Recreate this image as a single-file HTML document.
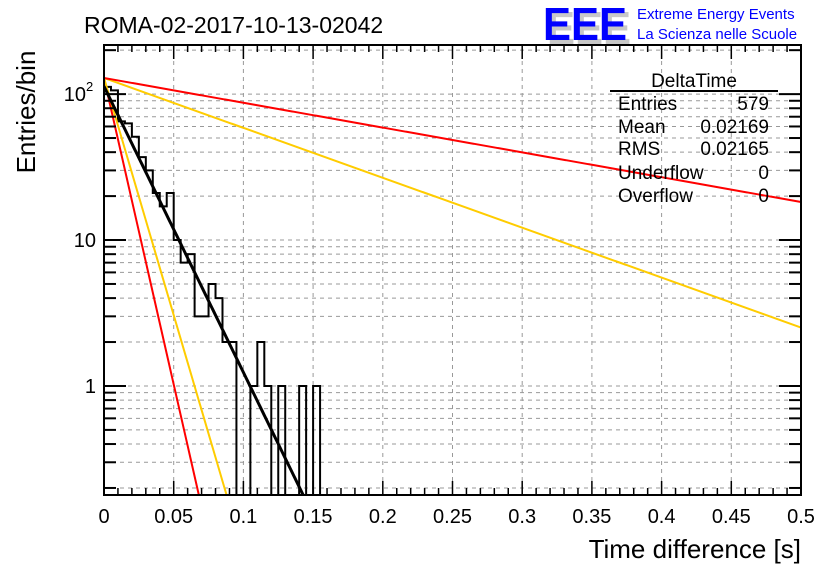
<!DOCTYPE html>
<html><head><meta charset="utf-8"><style>
body{margin:0;background:#fff;}
svg{display:block;font-family:"Liberation Sans",sans-serif;}
</style></head><body>
<svg id="c" width="836" height="572">
<text x="84" y="33" font-size="23">ROMA-02-2017-10-13-02042</text>
<g>
<text x="547" y="44" font-size="46" fill="#c8c8c8" font-weight="bold" textLength="84" lengthAdjust="spacingAndGlyphs">EEE</text>
<text x="543" y="40" font-size="46" fill="#0000ff" font-weight="bold" textLength="84" lengthAdjust="spacingAndGlyphs">EEE</text>
<text x="637" y="19" font-size="15" fill="#0000ff">Extreme Energy Events</text>
<text x="637" y="39" font-size="15" fill="#0000ff">La Scienza nelle Scuole</text>
</g>
<text transform="translate(35,112) rotate(-90)" text-anchor="middle" font-size="26">Entries/bin</text>
<text x="801" y="558" text-anchor="end" font-size="26">Time difference [s]</text>
<g id="grid"></g><g id="marks"></g><g id="axes"></g>
<g font-size="19">
<text x="694" y="87" text-anchor="middle">DeltaTime</text>
<line x1="610" y1="91" x2="778" y2="91" stroke="#000" stroke-width="2"/>
<text x="618" y="110">Entries</text><text x="769" y="110" text-anchor="end">579</text>
<text x="618" y="133">Mean</text><text x="769" y="133" text-anchor="end">0.02169</text>
<text x="618" y="155">RMS</text><text x="769" y="155" text-anchor="end">0.02165</text>
<text x="618" y="179">Underflow</text><text x="769" y="179" text-anchor="end">0</text>
<text x="618" y="202">Overflow</text><text x="769" y="202" text-anchor="end">0</text>
</g>
</svg>
<script>
const binWidth = 0.005;
const counts = [112,106,65,63,51,37,30,21,17,21,10,7,8,3,3,5,4,2,2,0,0,1,2,1,0,1,0,0,1,0,1];
const fitNames = ['red-fast','yellow-fast','black-fit','yellow-slow','red-slow'];
const fitAmp = [129,129,113,129,129];
const fitRate = [42.0,32.5,19.6,3.42,1.70];
const fitColor = ['#ff0000','#ffcc00','#000000','#ffcc00','#ff0000'];
const xTicks = [0,0.05,0.1,0.15,0.2,0.25,0.3,0.35,0.4,0.45,0.5];
const xTickLabels = ['0','0.05','0.1','0.15','0.2','0.25','0.3','0.35','0.4','0.45','0.5'];

const L=104,R=801,T=45,B=495;
const yMin=Math.log10(0.179), yMax=Math.log10(217);
const X=v=>L+(v-0)/(0.5)*(R-L);
const Y=v=>B-(Math.log10(v)-yMin)/(yMax-yMin)*(B-T);
const NS='http://www.w3.org/2000/svg';
function mk(tag,at,parent){const e=document.createElementNS(NS,tag);for(const k in at)e.setAttribute(k,at[k]);parent.appendChild(e);return e;}
const grid=document.getElementById('grid'),marks=document.getElementById('marks'),axes=document.getElementById('axes');
mk('rect',{x:L,y:T,width:R-L,height:B-T,fill:'#fff'},grid);
const clip=mk('clipPath',{id:'pc'},grid);mk('rect',{x:L,y:T,width:R-L,height:B-T},clip);
xTicks.forEach(t=>{if(t>0&&t<0.5){const g=mk('line',{x1:X(t),x2:X(t),y1:T,y2:B,stroke:'#999','stroke-dasharray':'4,4'},grid);

}});
for(let d=-1;d<=2;d++)for(let m=1;m<10;m++){const v=m*Math.pow(10,d);if(v<0.179||v>217)continue;
const g=mk('line',{x1:L,x2:R,y1:Y(v),y2:Y(v),stroke:'#999','stroke-dasharray':'4,4'},grid);


const major=m===1;const len=major?22:12;
mk('line',{x1:L,x2:L+len,y1:Y(v),y2:Y(v),stroke:'#000','stroke-width':2},axes);
mk('line',{x1:R,x2:R-len,y1:Y(v),y2:Y(v),stroke:'#000','stroke-width':2},axes);}
let d='';const floor=B+5;
counts.forEach((c,i)=>{const y=c>0?Y(c):floor;const x0=X(i*binWidth),x1=X((i+1)*binWidth);
d+=(i===0?`M${x0},${floor}L${x0},${y}`:`L${x0},${y}`)+`L${x1},${y}`;});
d+=`L${X(counts.length*binWidth)},${floor}`;
const h=mk('path',{d:d,fill:'none',stroke:'#000','stroke-width':2,'clip-path':'url(#pc)'},marks);


fitAmp.forEach((a,k)=>{let p='';for(let i=0;i<=500;i++){const t=i*0.001;const v=a*Math.pow(10,-fitRate[k]*t);if(v<0.15)break;p+=(i?'L':'M')+X(t)+','+Y(v);}
const l=mk('path',{d:p,fill:'none',stroke:fitColor[k],'stroke-width':k===2?3:2,'clip-path':'url(#pc)'},marks);

});
mk('rect',{x:L,y:T,width:R-L,height:B-T,fill:'none',stroke:'#000','stroke-width':2},axes);
for(let i=0;i<=50;i++){const t=i*0.01;const len=i%5===0?14:7;
mk('line',{x1:X(t),x2:X(t),y1:B,y2:B-len,stroke:'#000','stroke-width':1.5},axes);
mk('line',{x1:X(t),x2:X(t),y1:T,y2:T+len,stroke:'#000','stroke-width':1.5},axes);}
xTicks.forEach((t,i)=>{const tx=mk('text',{x:X(t),y:B+28,'text-anchor':'middle','font-size':20},axes);tx.textContent=xTickLabels[i];

});
const yl=[['1',1],['10',10]];
yl.forEach(([s,v])=>{const tx=mk('text',{x:96,y:Y(v)+7,'text-anchor':'end','font-size':20},axes);tx.textContent=s;

});
const t2=mk('text',{x:86,y:Y(100)+7,'text-anchor':'end','font-size':20},axes);t2.textContent='10';


const t3=mk('text',{x:86,y:Y(100)-3,'font-size':13},axes);t3.textContent='2';
</script>
</body></html>
